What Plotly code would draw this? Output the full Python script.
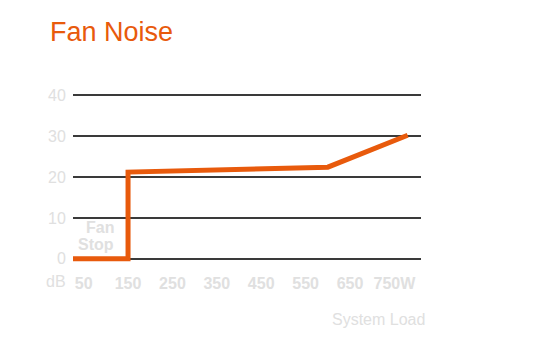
import plotly.graph_objects as go

load_w = [0, 150, 150, 450, 600, 780]
noise_db = [0, 0, 21.2, 21.8, 22.4, 30.2]
x_ticks = [50, 150, 250, 350, 450, 550, 650, 750]
x_labels = ["50", "150", "250", "350", "450", "550", "650", "750W"]
y_ticks = [0, 10, 20, 30, 40]

ORANGE = "#e85a0c"
LIGHT = "#e0e0e0"
FONT = "Liberation Sans, Arial, sans-serif"

W, H = 542, 352
L, T = 65, 79
PW, PH = 348, 180.4
B = H - T - PH
R = W - L - PW

fig = go.Figure()
fig.add_trace(go.Scatter(x=load_w, y=noise_db, mode="lines",
                         line=dict(color=ORANGE, width=5), hoverinfo="skip"))

fig.update_layout(
    width=W, height=H,
    margin=dict(l=L, r=R, t=T, b=B),
    paper_bgcolor="white", plot_bgcolor="white",
    showlegend=False,
    font=dict(family=FONT),
    title=dict(text="Fan Noise", x=42/W, xanchor="left", y=1-24/H, yanchor="middle",
               font=dict(size=27, color=ORANGE, family=FONT)),
    xaxis=dict(range=[26, 810], showgrid=False, zeroline=False, showline=False,
               tickvals=x_ticks, ticktext=x_labels, ticks="outside", ticklen=2,
               tickcolor="rgba(0,0,0,0)",
               tickfont=dict(size=16, color=LIGHT, family=FONT, weight="bold")),
    yaxis=dict(range=[-2, 42], tickvals=y_ticks, showgrid=True, gridcolor="#3a3a3a",
               gridwidth=1.8, zeroline=False, showline=False, ticks="outside", ticklen=3,
               tickcolor="rgba(0,0,0,0)",
               tickfont=dict(size=16, color=LIGHT, family=FONT)),
)

fig.add_annotation(text="dB", xref="paper", yref="paper", x=(48-L)/PW, y=(T+PH-274)/PH,
                   xanchor="center", yanchor="middle", showarrow=False,
                   font=dict(size=16, color=LIGHT, family=FONT))
fig.add_annotation(text="Fan", xref="x", yref="y", x=87, y=7.6,
                   xanchor="center", yanchor="middle", showarrow=False,
                   font=dict(size=16, color=LIGHT, family=FONT, weight="bold"))
fig.add_annotation(text="Stop", xref="x", yref="y", x=78, y=3.4,
                   xanchor="center", yanchor="middle", showarrow=False,
                   font=dict(size=16, color=LIGHT, family=FONT, weight="bold"))
fig.add_annotation(text="System Load", xref="paper", yref="paper", x=(419-L)/PW,
                   y=(T+PH-312)/PH,
                   xanchor="right", yanchor="middle", showarrow=False,
                   font=dict(size=16, color=LIGHT, family=FONT))

fig.write_html("out.html")
